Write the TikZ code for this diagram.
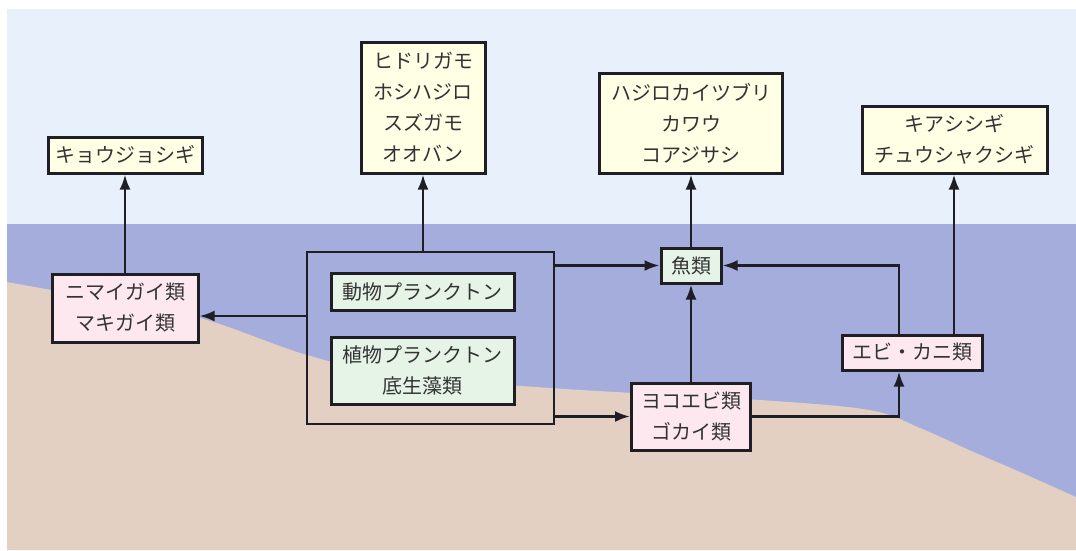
\documentclass[tikz,border=0pt]{standalone}
\usepackage{fontspec}
\setmainfont{Noto Sans CJK JP}
\usetikzlibrary{arrows.meta}
\definecolor{sky}{HTML}{E8F0FB}
\definecolor{water}{HTML}{A4ADDB}
\definecolor{sand}{HTML}{E3D0C2}
\definecolor{birdfill}{HTML}{FFFFE6}
\definecolor{pinkfill}{HTML}{FCE8EE}
\definecolor{greenfill}{HTML}{E6F4E8}
\definecolor{ink}{HTML}{1E1E24}
\definecolor{txt}{HTML}{333333}
\tikzset{
  x=1pt, y=-1pt,
  box/.style={draw=ink, line width=3pt, inner sep=0pt, align=center,
    font=\fontsize{20}{31}\selectfont, text=txt},
  bird/.style={box, fill=birdfill},
  prey/.style={box, fill=pinkfill},
  plank/.style={box, fill=greenfill},
  link/.style={draw=ink, line width=2.6pt, -{Latex[length=15pt,width=11pt]}},
}
\begin{document}
\begin{tikzpicture}
\useasboundingbox (0,0) rectangle (1076,550);
\fill[white] (0,0) rectangle (1076,550);
\fill[sky] (7,9) rectangle (1076,224);
\fill[water] (7,224) rectangle (1076,550);
\fill[sand] plot[smooth, tension=0.6] coordinates {(7,282) (100,299) (200,318) (307,355) (400,376) (536,387) (633,393) (760,400) (869,410) (920,428) (969,450) (1020,472) (1076,497)} -- (1076,550) -- (7,550) -- cycle;

% bird boxes
\node[bird, minimum width=154pt, minimum height=36pt] (kyojo) at (125,155) {キョウジョシギ};
\node[bird, minimum width=124pt, minimum height=131pt] (hidori) at (423,107.5) {ヒドリガモ\\ホシハジロ\\スズガモ\\オオバン};
\node[bird, minimum width=183pt, minimum height=100pt] (hajiro) at (691,123) {ハジロカイツブリ\\カワウ\\コアジサシ};
\node[bird, minimum width=185pt, minimum height=67pt] (kiashi) at (954.5,139.5) {キアシシギ\\チュウシャクシギ};

% prey boxes
\node[prey, minimum width=146pt, minimum height=68pt] (nimai) at (125,308) {ニマイガイ類\\マキガイ類};
\node[prey, minimum width=119pt, minimum height=67pt] (yoko) at (691,416.5) {ヨコエビ類\\ゴカイ類};
\node[prey, minimum width=140pt, minimum height=35pt] (ebi) at (912,352.5) {エビ・カニ類};

% plankton
\node[draw=ink, line width=2.4pt, minimum width=247pt, minimum height=172pt, inner sep=0pt] (cont) at (430.5,338) {};
\node[plank, minimum width=183pt, minimum height=37pt] (zoo) at (422.5,291.5) {動物プランクトン};
\node[plank, minimum width=183pt, minimum height=67pt] (phyto) at (422.5,370.5) {植物プランクトン\\底生藻類};
\node[plank, minimum width=60pt, minimum height=35pt] (fish) at (691,265.5) {魚類};

% connectors
\draw[link] (nimai.north) -- (kyojo.south);
\draw[link] (cont.north -| hidori.south) -- (hidori.south);
\draw[link] (fish.north) -- (hajiro.south);
\coordinate (ebiR) at ([xshift=42pt]ebi.north);
\draw[link] (ebiR) -- (ebiR |- kiashi.south);
\draw[link] (cont.west |- 0,316) -- (nimai.east |- 0,316);
\draw[link] (cont.east |- fish.west) -- (fish.west);
\coordinate (ebiL) at (899,335);
\draw[link] (ebiL |- ebi.north) |- (fish.east);
\draw[link] (yoko.north) -- (fish.south);
\draw[link] (cont.east |- yoko.west) -- (yoko.west);
\draw[link] (yoko.east) -| (ebiL |- ebi.south);
\end{tikzpicture}
\end{document}
